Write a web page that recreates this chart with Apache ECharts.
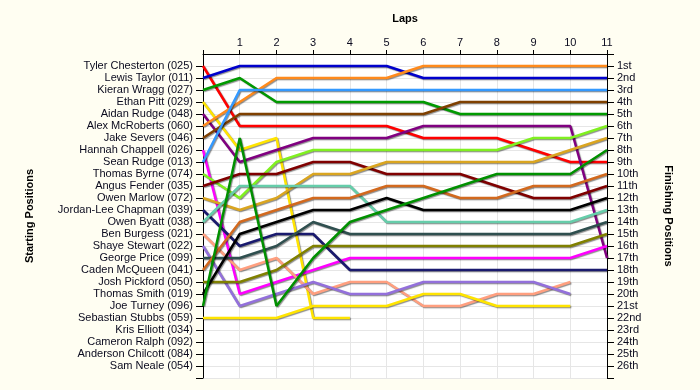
<!DOCTYPE html>
<html>
<head>
<meta charset="utf-8">
<script src="https://cdn.jsdelivr.net/npm/echarts@6/dist/echarts.min.js"></script>
<style>
html,body{margin:0;padding:0;background:#FFFEF2;}
#chart{width:700px;height:390px;}
</style>
</head>
<body>
<div id="chart"></div>
<script>
// Starting grid (left axis tick labels)
const startNames = [
  'Tyler Chesterton (025)', 'Lewis Taylor (011)', 'Kieran Wragg (027)', 'Ethan Pitt (029)',
  'Aidan Rudge (048)', 'Alex McRoberts (060)', 'Jake Severs (046)', 'Hannah Chappell (026)',
  'Sean Rudge (013)', 'Thomas Byrne (074)', 'Angus Fender (035)', 'Owen Marlow (072)',
  'Jordan-Lee Chapman (039)', 'Owen Byatt (038)', 'Ben Burgess (021)', 'Shaye Stewart (022)',
  'George Price (099)', 'Caden McQueen (041)', 'Josh Pickford (050)', 'Thomas Smith (019)',
  'Joe Turney (096)', 'Sebastian Stubbs (059)', 'Kris Elliott (034)', 'Cameron Ralph (092)',
  'Anderson Chilcott (084)', 'Sam Neale (054)'
];
// Finishing positions (right axis tick labels)
const finishLabels = [
  '1st','2nd','3rd','4th','5th','6th','7th','8th','9th','10th','11th','12th','13th',
  '14th','15th','16th','17th','18th','19th','20th','21st','22nd','23rd','24th','25th','26th'
];
// Lap tick labels (top axis)
const lapLabels = ['1','2','3','4','5','6','7','8','9','10','11'];

// Position per lap (lap 0 = start)
const tyler     = [1,6,6,6,6,6,7,7,7,8,9,9];
const lewis     = [2,1,1,1,1,1,2,2,2,2,2,2];
const kieran    = [3,2,4,4,4,4,4,5,5,5,5,5];
const ethan     = [4,8,7,22,22];
const aidan     = [5,9,8,7,7,7,6,6,6,6,6,17];
const alex      = [6,4,2,2,2,2,1,1,1,1,1,1];
const jake      = [7,5,5,5,5,5,5,4,4,4,4,4];
const hannah    = [8,20,19,18,17,17,17,17,17,17,17,16];
const sean      = [9,3,3,3,3,3,3,3,3,3,3,3];
const thomasB   = [10,12,9,8,8,8,8,8,8,7,7,6];
const angus     = [11,10,10,9,9,10,10,10,11,12,12,11];
const owenM     = [12,13,12,10,10,9,9,9,9,9,8,7];
const jordan    = [13,16,15,15,18,18,18,18,18,18,18,18];
const owenB     = [14,11,11,11,11,14,14,14,14,14,14,13];
const ben       = [15,18,17,20,19,19,21,21,20,20,19];
const shaye     = [16,21,20,19,20,20,19,19,19,19,20];
const george    = [17,17,16,14,15,15,15,15,15,15,15,14];
const caden     = [18,14,13,12,12,11,11,12,12,11,11,10];
const josh      = [19,19,18,16,16,16,16,16,16,16,16,15];
const thomasS   = [20,15,14,13,13,12,13,13,13,13,13,12];
const joe       = [21,7,21,17,14,13,12,11,10,10,10,8];
const sebastian = [22,22,22,21,21,21,20,20,21,21,21];

const drivers = [
  ['Tyler Chesterton', tyler, '#FF0000'],
  ['Lewis Taylor', lewis, '#0000CC'],
  ['Kieran Wragg', kieran, '#009A00'],
  ['Ethan Pitt', ethan, '#FFE400'],
  ['Aidan Rudge', aidan, '#800080'],
  ['Alex McRoberts', alex, '#FF8A1C'],
  ['Jake Severs', jake, '#7F4000'],
  ['Hannah Chappell', hannah, '#FF00FF'],
  ['Sean Rudge', sean, '#3399FF'],
  ['Thomas Byrne', thomasB, '#80F020'],
  ['Angus Fender', angus, '#800000'],
  ['Owen Marlow', owenM, '#DAA520'],
  ['Jordan-Lee Chapman', jordan, '#1A1A6E'],
  ['Owen Byatt', owenB, '#66CDAA'],
  ['Ben Burgess', ben, '#FF9F7F'],
  ['Shaye Stewart', shaye, '#9370DB'],
  ['George Price', george, '#2F4F4F'],
  ['Caden McQueen', caden, '#D2691E'],
  ['Josh Pickford', josh, '#808000'],
  ['Thomas Smith', thomasS, '#000000'],
  ['Joe Turney', joe, '#009000'],
  ['Sebastian Stubbs', sebastian, '#FFE400']
];

const FONT = '"Liberation Sans", Arial, sans-serif';
const TXT = '#0A0A1E';
const range = (a, b) => { const r = []; for (let i = a; i <= b; i++) r.push(i); return r; };

const series = drivers.map(([name, vals, color]) => ({
  name: name,
  type: 'line',
  data: vals.map((p, lap) => [lap, p]),
  symbol: 'none',
  lineStyle: {
    color: color, width: 2.5,
    shadowColor: 'rgba(0,0,0,0.45)', shadowBlur: 1, shadowOffsetX: 1, shadowOffsetY: 1
  },
  itemStyle: { color: color },
  emphasis: { disabled: true },
  z: 3
}));

const chart = echarts.init(document.getElementById('chart'), null, { renderer: 'canvas' });
chart.setOption({
  animation: false,
  backgroundColor: '#FFFEF2',
  textStyle: { fontFamily: FONT },
  grid: {
    left: 203, top: 54, right: 93, height: 324,
    show: true, backgroundColor: '#FFFFFF', borderWidth: 0
  },
  xAxis: {
    type: 'value', position: 'top', min: 0, max: 11, interval: 1,
    name: 'Laps', nameLocation: 'middle', nameGap: 30,
    nameTextStyle: { fontFamily: FONT, fontSize: 11, fontWeight: 'bold', color: '#000' },
    axisLine: { show: true, lineStyle: { color: '#000', width: 1 } },
    axisTick: { show: true, length: 4, lineStyle: { color: '#000' } },
    axisLabel: {
      margin: 6, fontFamily: FONT, fontSize: 11, color: TXT,
      formatter: v => (v === 0 ? '' : lapLabels[v - 1])
    },
    splitLine: { show: true, lineStyle: { color: '#E6E6E6', width: 1 } }
  },
  yAxis: [
    {
      type: 'value', position: 'left', min: 0, max: 27, interval: 1, inverse: true,
      name: 'Starting Positions', nameLocation: 'middle', nameRotate: 90, nameGap: 168,
      nameTextStyle: { fontFamily: FONT, fontSize: 11, fontWeight: 'bold', color: '#000' },
      axisLine: { show: true, lineStyle: { color: '#000', width: 1 } },
      axisTick: { show: true, length: 7, customValues: range(1, 27), lineStyle: { color: '#000' } },
      axisLabel: {
        margin: 10, fontFamily: FONT, fontSize: 11, color: TXT,
        customValues: range(1, 26),
        formatter: v => startNames[v - 1] || ''
      },
      splitLine: { show: true, lineStyle: { color: '#E6E6E6', width: 1 } }
    },
    {
      type: 'value', position: 'right', min: 0, max: 27, interval: 1, inverse: true,
      name: 'Finishing Positions', nameLocation: 'middle', nameRotate: -90, nameGap: 56,
      nameTextStyle: { fontFamily: FONT, fontSize: 11, fontWeight: 'bold', color: '#000' },
      axisLine: { show: true, lineStyle: { color: '#000', width: 1 } },
      axisTick: { show: true, length: 7, customValues: range(0, 27), lineStyle: { color: '#000' } },
      axisLabel: {
        margin: 10, fontFamily: FONT, fontSize: 11, color: TXT,
        customValues: range(1, 26),
        formatter: v => finishLabels[v - 1] || ''
      },
      splitLine: { show: false }
    }
  ],
  series: series
});
</script>
</body>
</html>
